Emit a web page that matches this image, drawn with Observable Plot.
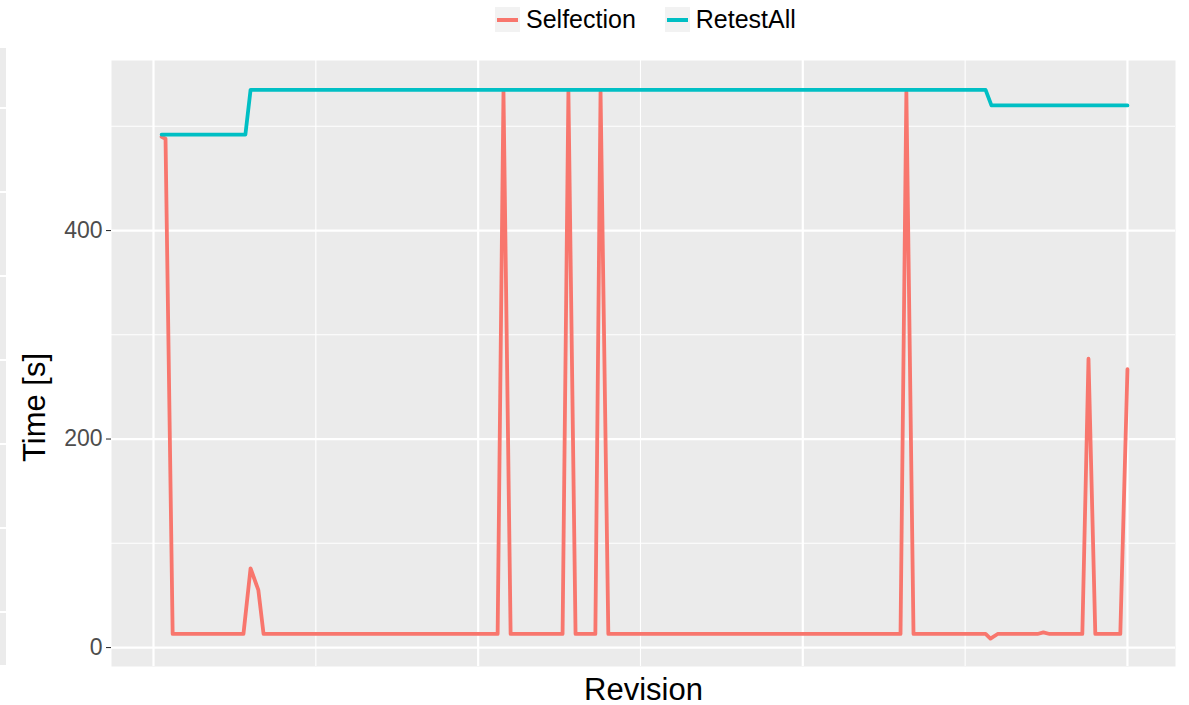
<!DOCTYPE html>
<html>
<head>
<meta charset="utf-8">
<script src="https://cdn.jsdelivr.net/npm/d3@7"></script>
<script src="https://cdn.jsdelivr.net/npm/@observablehq/plot@0.6"></script>
<style>
  html, body { margin: 0; padding: 0; background: white; }
  body { width: 1189px; height: 705px; position: relative; overflow: hidden; font-family: "Liberation Sans", Arial, sans-serif; }
  #legend { position: absolute; left: 495px; top: 7px; height: 25px; display: flex; align-items: center; z-index: 2; }
  .item { display: flex; align-items: center; margin-right: 29px; }
  .key { width: 25px; height: 25px; background: #f2f2f2; position: relative; }
  .key span { position: absolute; left: 2px; right: 2px; top: 10.5px; height: 4px; }
  .lbl { font-size: 25px; color: #000; margin-left: 6px; line-height: 25px; }
  #chart { position: absolute; left: 0; top: 40px; z-index: 1; }
  #strip { position: absolute; left: 0; top: 48px; width: 6px; height: 617px; z-index: 3;
    background: repeating-linear-gradient(to bottom, #ebebeb 0px, #ebebeb 59px, #ffffff 59px, #ffffff 61px, #ebebeb 61px, #ebebeb 84px); }
</style>
</head>
<body>
<div id="chart"></div>
<div id="strip"></div>
<div id="legend"></div>
<script>
// Series names and colours
const seriesNames = ["Selfection", "RetestAll"];
const seriesColors = ["#F8766D", "#00BFC4"];

// Selfection: revision positions and times [s]
const selfectionRevision = [2.5, 3.7, 5.9, 27.7, 29.9, 32.3, 33.9, 106.0, 107.8, 110.0, 126.0, 127.8, 130.0, 136.1, 137.7, 140.1, 230.1, 231.9, 234.1, 256.3, 257.8, 260.0, 272.3, 274.1, 276.0, 286.1, 288.0, 290.1, 297.8, 300.0];
const selfectionTime = [490, 488, 13, 13, 76, 55, 13, 13, 533, 13, 13, 533, 13, 13, 533, 13, 13, 533, 13, 13, 8.5, 13, 13, 14.5, 13, 13, 277, 13, 13, 267];

// RetestAll: revision positions and times [s]
const retestRevision = [2.5, 28.3, 29.9, 256.3, 258.1, 300.0];
const retestTime = [492, 492, 535, 535, 520, 520];

// Axis ticks / grid
const yMajor = [0, 200, 400];
const yMinor = [100, 300, 500];
const xMajor = [0, 100, 200, 300];
const xMinor = [50, 150, 250];

const rows = [
  ...selfectionRevision.map((r, i) => ({revision: r, time: selfectionTime[i], series: seriesNames[0]})),
  ...retestRevision.map((r, i) => ({revision: r, time: retestTime[i], series: seriesNames[1]}))
];

// Legend
const legend = document.getElementById("legend");
seriesNames.forEach((name, i) => {
  const item = document.createElement("div");
  item.className = "item";
  const key = document.createElement("div");
  key.className = "key";
  const line = document.createElement("span");
  line.style.background = seriesColors[i];
  key.appendChild(line);
  const lbl = document.createElement("div");
  lbl.className = "lbl";
  lbl.textContent = name;
  item.appendChild(key);
  item.appendChild(lbl);
  legend.appendChild(item);
});

const chart = Plot.plot({
  width: 1189,
  height: 665,
  marginLeft: 111,
  marginRight: 14,
  marginTop: 20,
  marginBottom: 39,
  x: {domain: [-12.94, 314.8], axis: null},
  y: {domain: [-18.2, 563.1], axis: null},
  color: {domain: seriesNames, range: seriesColors},
  style: {fontFamily: "'Liberation Sans', Arial, sans-serif", background: "transparent", overflow: "visible"},
  marks: [
    Plot.frame({fill: "#ebebeb", stroke: null}),
    Plot.gridY(yMinor, {stroke: "white", strokeOpacity: 1, strokeWidth: 1.1}),
    Plot.gridX(xMinor, {stroke: "white", strokeOpacity: 1, strokeWidth: 1.1}),
    Plot.gridY(yMajor, {stroke: "white", strokeOpacity: 1, strokeWidth: 2.2}),
    Plot.gridX(xMajor, {stroke: "white", strokeOpacity: 1, strokeWidth: 2.2}),
    Plot.axisY(yMajor, {tickSize: 5, tickPadding: 4, stroke: "#333333", strokeWidth: 1.1, fill: "#4d4d4d", fontSize: 23, label: null}),
    Plot.line(rows, {x: "revision", y: "time", stroke: "series", z: "series", strokeWidth: 3.8, strokeLinejoin: "round"}),
    Plot.text(["Revision"], {frameAnchor: "bottom", dy: 24, fontSize: 31, fill: "black", lineAnchor: "middle", textAnchor: "middle"}),
    Plot.text(["Time [s]"], {frameAnchor: "left", rotate: -90, dx: -76, dy: 44, fontSize: 31, fill: "black", lineAnchor: "middle", textAnchor: "middle"})
  ]
});
document.getElementById("chart").appendChild(chart);
</script>
</body>
</html>
